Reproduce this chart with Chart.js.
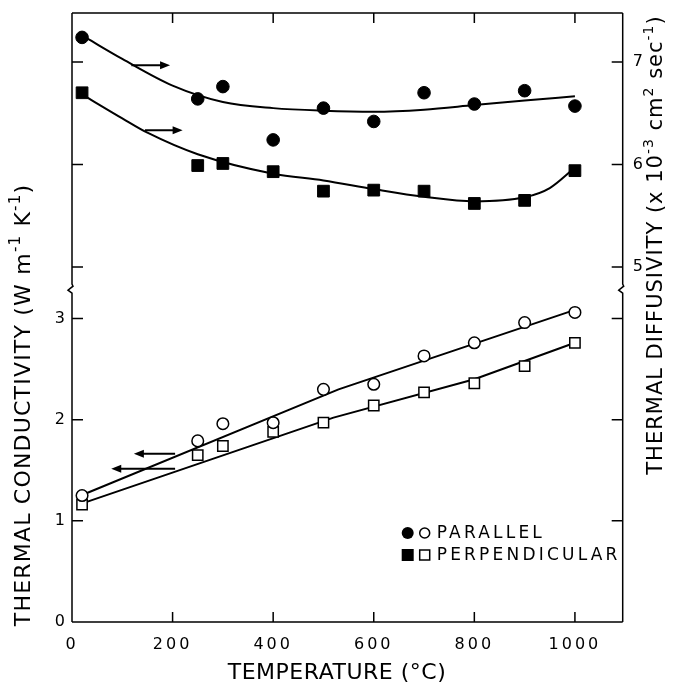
<!DOCTYPE html>
<html>
<head>
<meta charset="utf-8">
<script src="https://cdn.jsdelivr.net/npm/chart.js@4.4.1/dist/chart.umd.min.js"></script>
<style>
  html, body { margin: 0; padding: 0; background: #fff; }
  canvas { display: block; }
</style>
</head>
<body>
<canvas id="chart" width="675" height="685"></canvas>
<script>
var temps = [20, 250, 300, 400, 500, 600, 700, 800, 900, 1000];

// thermal diffusivity (x 10^-3 cm2 sec-1), right axis
var diffParallel = [7.24, 6.64, 6.76, 6.24, 6.55, 6.42, 6.70, 6.59, 6.72, 6.57];
var diffPerpendicular = [6.70, 5.99, 6.01, 5.93, 5.74, 5.75, 5.74, 5.62, 5.65, 5.94];

// thermal conductivity (W m-1 K-1), left axis
var condParallel = [1.25, 1.79, 1.96, 1.97, 2.30, 2.35, 2.63, 2.76, 2.96, 3.06];
var condPerpendicular = [1.16, 1.65, 1.74, 1.88, 1.97, 2.14, 2.27, 2.36, 2.53, 2.76];

// curves drawn through the points
var diffParallelFitT = [30, 100, 200, 300, 400, 500, 600, 700, 800, 900, 1000];
var diffParallelFit = [7.23, 7.03, 6.77, 6.61, 6.55, 6.525, 6.515, 6.535, 6.58, 6.625, 6.665];
var diffPerpFitT = [28, 100, 150, 250, 400, 500, 600, 700, 800, 900, 950, 1000];
var diffPerpFit = [6.66, 6.45, 6.31, 6.10, 5.91, 5.845, 5.76, 5.685, 5.64, 5.68, 5.77, 5.97];
var condParallelFitT = [25, 530, 1000];
var condParallelFit = [1.265, 2.30, 3.085];
var condPerpFitT = [25, 520, 800, 1000];
var condPerpFit = [1.18, 2.02, 2.40, 2.76];

var xTicks = [0, 200, 400, 600, 800, 1000];
var condTicks = [0, 1, 2, 3];
var diffTicks = [5, 6, 7];
var breakAt = 3.29; // axis break, in conductivity units

// arrows telling which axis each pair of curves uses (tail -> head)
var arrows = [
    { axis: 'y2', from: 118, to: 195, at: 6.968 },
    { axis: 'y2', from: 145, to: 220, at: 6.334 },
    { axis: 'y', from: 205, to: 123, at: 1.662 },
    { axis: 'y', from: 205, to: 78, at: 1.514 }
];

var FONT = 'DejaVu Sans';

function pair(xs, ys) {
    return xs.map(function (x, i) { return { x: x, y: ys[i] }; });
}

function fixTicks(list) {
    return function (scale) {
        scale.ticks = list.map(function (v) { return { value: v }; });
    };
}

function plainLabel(v) {
    return String(v);
}

function drawRich(ctx, parts, cx, cy, size, spacing, rotate) {
    ctx.save();
    ctx.translate(cx, cy);
    if (rotate) ctx.rotate(-Math.PI / 2);
    ctx.letterSpacing = spacing + 'px';
    ctx.fillStyle = '#000';
    ctx.textAlign = 'left';
    ctx.textBaseline = 'middle';
    var widths = parts.map(function (p) {
        ctx.font = (p[1] ? Math.round(size * 0.68) : size) + 'px ' + FONT;
        return ctx.measureText(p[0]).width;
    });
    var total = widths.reduce(function (s, w) { return s + w; }, 0);
    var x = -total / 2;
    parts.forEach(function (p, i) {
        ctx.font = (p[1] ? Math.round(size * 0.68) : size) + 'px ' + FONT;
        ctx.fillText(p[0], x, p[1] ? -size * 0.36 : 0);
        x += widths[i];
    });
    ctx.restore();
}

var decor = {
    id: 'decor',
    beforeDraw: function (chart) {
        chart.ctx.letterSpacing = '3px';
    },
    afterDraw: function (chart) {
        var ctx = chart.ctx;
        var a = chart.chartArea;
        var sx = chart.scales.x, sy = chart.scales.y, sy2 = chart.scales.y2;
        ctx.save();
        ctx.letterSpacing = '0px';
        ctx.strokeStyle = '#000';
        ctx.fillStyle = '#000';
        ctx.lineWidth = 1.5;

        // frame, with the break mark on both vertical axes
        var yb = sy.getPixelForValue(breakAt);
        ctx.beginPath();
        ctx.moveTo(a.left, a.top); ctx.lineTo(a.right, a.top);
        ctx.moveTo(a.left, a.bottom); ctx.lineTo(a.right, a.bottom);
        [a.left, a.right].forEach(function (x) {
            ctx.moveTo(x, a.top);
            ctx.lineTo(x, yb - 5);
            ctx.lineTo(x + 1, yb - 3);
            ctx.lineTo(x - 4, yb + 1);
            ctx.lineTo(x, yb + 4);
            ctx.lineTo(x, a.bottom);
        });
        ctx.stroke();

        // inward tick marks
        ctx.beginPath();
        xTicks.forEach(function (v) {
            if (v === 0) return;
            var px = sx.getPixelForValue(v);
            ctx.moveTo(px, a.bottom); ctx.lineTo(px, a.bottom - 10);
            ctx.moveTo(px, a.top); ctx.lineTo(px, a.top + 10);
        });
        condTicks.forEach(function (v) {
            if (v === 0) return;
            var py = sy.getPixelForValue(v);
            ctx.moveTo(a.left, py); ctx.lineTo(a.left + 11, py);
            ctx.moveTo(a.right, py); ctx.lineTo(a.right - 11, py);
        });
        diffTicks.forEach(function (v) {
            var py = sy2.getPixelForValue(v);
            ctx.moveTo(a.left, py); ctx.lineTo(a.left + 11, py);
            ctx.moveTo(a.right, py); ctx.lineTo(a.right - 11, py);
        });
        ctx.stroke();

        // arrows
        arrows.forEach(function (ar) {
            var s = chart.scales[ar.axis];
            var x0 = sx.getPixelForValue(ar.from), x1 = sx.getPixelForValue(ar.to);
            var py = s.getPixelForValue(ar.at);
            var dir = x1 > x0 ? 1 : -1;
            ctx.lineWidth = 2;
            ctx.beginPath();
            ctx.moveTo(x0, py); ctx.lineTo(x1 - dir * 6, py);
            ctx.stroke();
            ctx.beginPath();
            ctx.moveTo(x1, py);
            ctx.lineTo(x1 - dir * 10, py - 4);
            ctx.lineTo(x1 - dir * 10, py + 4);
            ctx.closePath();
            ctx.fill();
        });

        // legend
        var lx = a.right - 215;
        var ly1 = a.bottom - 89, ly2 = a.bottom - 67;
        ctx.lineWidth = 1.5;
        ctx.beginPath(); ctx.arc(lx, ly1, 6, 0, Math.PI * 2); ctx.fill();
        ctx.beginPath(); ctx.arc(lx + 17, ly1, 5, 0, Math.PI * 2); ctx.stroke();
        ctx.fillRect(lx - 6, ly2 - 6, 12, 12);
        ctx.strokeRect(lx + 12, ly2 - 5, 10, 10);
        ctx.font = '17px ' + FONT;
        ctx.letterSpacing = '3.2px';
        ctx.textAlign = 'left';
        ctx.textBaseline = 'middle';
        ctx.fillText('PARALLEL', lx + 29, ly1 + 1);
        ctx.fillText('PERPENDICULAR', lx + 29, ly2 + 1);
        ctx.restore();

        // axis titles
        drawRich(ctx, [['THERMAL CONDUCTIVITY (W m', 0], ['-1', 1], [' K', 0], ['-1', 1], [')', 0]],
            24, 405, 22, 1.2, true);
        drawRich(ctx, [['THERMAL DIFFUSIVITY (x 10', 0], ['-3', 1], [' cm', 0], ['2', 1],
            [' sec', 0], ['-1', 1], [')', 0]], 657, 245, 21, 1, true);
        drawRich(ctx, [['TEMPERATURE (°C)', 0]], 337, 673, 22, 0.5, false);
        ctx.letterSpacing = '0px';
    }
};

var tickFont = { family: FONT, size: 16 };

function noPadVertical(width) {
    return function (s) {
        s.width = width;
        s.paddingTop = 0;
        s.paddingBottom = 0;
    };
}

new Chart(document.getElementById('chart'), {
    type: 'scatter',
    data: {
        datasets: [
            {
                label: 'Diffusivity parallel',
                data: pair(temps, diffParallel),
                yAxisID: 'y2',
                showLine: false,
                pointStyle: 'circle',
                pointRadius: 6.3,
                backgroundColor: '#000',
                borderColor: '#000',
                borderWidth: 1
            },
            {
                label: 'Diffusivity perpendicular',
                data: pair(temps, diffPerpendicular),
                yAxisID: 'y2',
                showLine: false,
                pointStyle: 'rect',
                pointRadius: 8.3,
                backgroundColor: '#000',
                borderColor: '#000',
                borderWidth: 1
            },
            {
                label: 'Conductivity parallel',
                data: pair(temps, condParallel),
                yAxisID: 'y',
                showLine: false,
                pointStyle: 'circle',
                pointRadius: 5.8,
                backgroundColor: '#fff',
                borderColor: '#000',
                borderWidth: 1.5
            },
            {
                label: 'Conductivity perpendicular',
                data: pair(temps, condPerpendicular),
                yAxisID: 'y',
                showLine: false,
                pointStyle: 'rect',
                pointRadius: 7.3,
                backgroundColor: '#fff',
                borderColor: '#000',
                borderWidth: 1.5
            },
            {
                data: pair(diffParallelFitT, diffParallelFit),
                yAxisID: 'y2',
                showLine: true,
                pointRadius: 0,
                borderColor: '#000',
                borderWidth: 2,
                cubicInterpolationMode: 'monotone'
            },
            {
                data: pair(diffPerpFitT, diffPerpFit),
                yAxisID: 'y2',
                showLine: true,
                pointRadius: 0,
                borderColor: '#000',
                borderWidth: 2,
                cubicInterpolationMode: 'monotone'
            },
            {
                data: pair(condParallelFitT, condParallelFit),
                yAxisID: 'y',
                showLine: true,
                pointRadius: 0,
                borderColor: '#000',
                borderWidth: 2
            },
            {
                data: pair(condPerpFitT, condPerpFit),
                yAxisID: 'y',
                showLine: true,
                pointRadius: 0,
                borderColor: '#000',
                borderWidth: 2
            }
        ]
    },
    options: {
        responsive: false,
        animation: false,
        events: [],
        layout: { padding: { top: 13, left: 0, right: 0, bottom: 0 } },
        plugins: {
            legend: { display: false },
            tooltip: { enabled: false }
        },
        scales: {
            x: {
                type: 'linear',
                position: 'bottom',
                min: 0,
                max: 1095,
                afterBuildTicks: fixTicks(xTicks),
                afterFit: function (s) {
                    s.height = 63;
                    s.paddingLeft = 0;
                    s.paddingRight = 0;
                },
                grid: { display: false, drawTicks: false },
                border: { display: false },
                ticks: { color: '#000', font: tickFont, padding: 13, maxRotation: 0, autoSkip: false, callback: plainLabel }
            },
            y: {
                position: 'left',
                min: 0,
                max: 6.02,
                afterBuildTicks: fixTicks(condTicks),
                afterFit: noPadVertical(72),
                grid: { display: false, drawTicks: false },
                border: { display: false },
                ticks: { color: '#000', font: tickFont, padding: 4, callback: plainLabel }
            },
            y2: {
                position: 'right',
                min: 1.537,
                max: 7.478,
                afterBuildTicks: fixTicks(diffTicks),
                afterFit: noPadVertical(52.3),
                grid: { display: false, drawTicks: false },
                border: { display: false },
                ticks: { color: '#000', font: tickFont, padding: 10, callback: plainLabel }
            }
        }
    },
    plugins: [decor]
});
</script>
</body>
</html>
